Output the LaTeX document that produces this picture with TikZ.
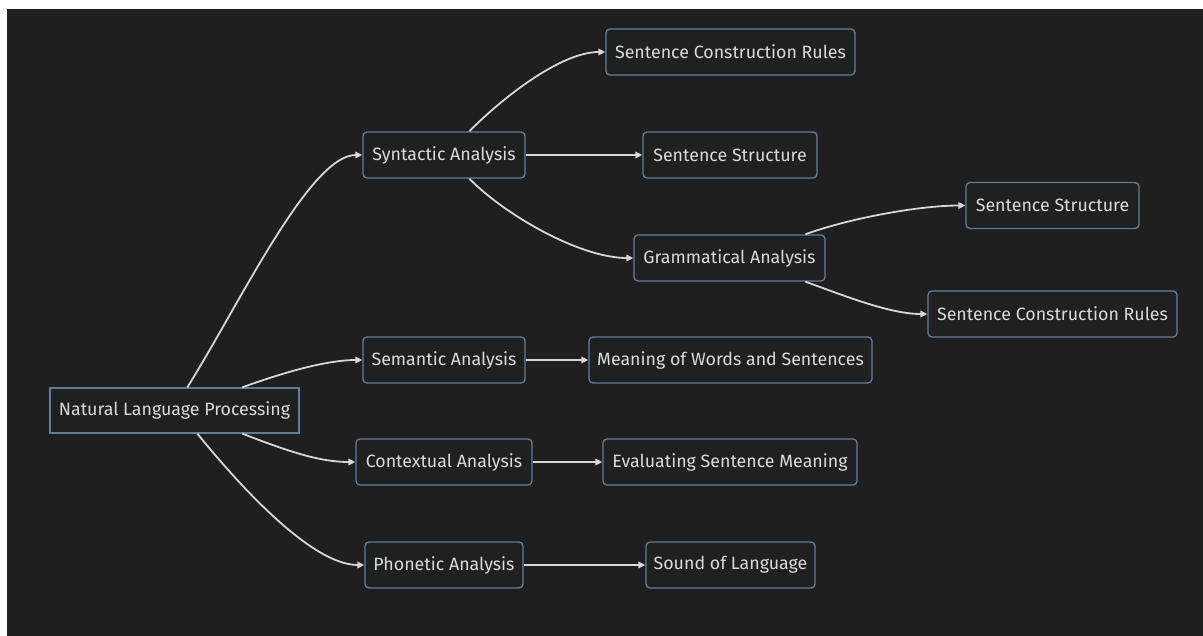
\documentclass[tikz,border=0pt]{standalone}
\usepackage{fontspec}
\setmainfont{Fira Sans}
\usetikzlibrary{arrows.meta}
\definecolor{bgdark}{RGB}{31,31,31}
\definecolor{boxfill}{RGB}{31,32,32}
\definecolor{boxborder}{RGB}{96,126,154}
\definecolor{txt}{RGB}{218,218,218}
\definecolor{edge}{RGB}{214,214,214}
\begin{document}
\begin{tikzpicture}[x=1pt,y=-1pt,
  box/.style={draw=boxborder,fill=boxfill,line width=1.3pt,rounded corners=4pt,
    text=txt,font=\fontsize{17.8}{20}\selectfont,inner sep=0pt,minimum height=46pt},
  sqbox/.style={box,rounded corners=0pt},
  conn/.style={draw=edge,line width=1.8pt,-{Triangle[length=7pt,width=6.5pt]}}]
\useasboundingbox (0,0) rectangle (1203,636);
\fill[white] (0,0) rectangle (1203,636);
\fill[bgdark] (7,9) rectangle (1203,636);

\node[sqbox,minimum width=249pt,minimum height=45pt] (nlp) at (174.5,410.5) {Natural Language Processing};
\node[box,minimum width=162pt] (syn) at (444,155) {Syntactic Analysis};
\node[box,minimum width=249pt] (scr1) at (730.5,52) {Sentence Construction Rules};
\node[box,minimum width=174pt] (ss1) at (730,155) {Sentence Structure};
\node[box,minimum width=191pt] (gram) at (729.5,258) {Grammatical Analysis};
\node[box,minimum width=173pt] (ss2) at (1052.5,205.5) {Sentence Structure};
\node[box,minimum width=249pt] (scr2) at (1052.5,314) {Sentence Construction Rules};
\node[box,minimum width=162pt] (sem) at (444,360) {Semantic Analysis};
\node[box,minimum width=283pt] (mean) at (730.5,360) {Meaning of Words and Sentences};
\node[box,minimum width=176pt] (ctx) at (444,462) {Contextual Analysis};
\node[box,minimum width=254pt] (eval) at (730,462) {Evaluating Sentence Meaning};
\node[box,minimum width=158pt] (pho) at (444,565) {Phonetic Analysis};
\node[box,minimum width=169pt] (sound) at (730.5,565) {Sound of Language};

% curved connectors
\draw[conn] (nlp.north west) ++(138,0) .. controls (240,303) and (310,155) .. (syn.west);
\draw[conn] (nlp.north west) ++(193,0) .. controls (290,370) and (330,360) .. (sem.west);
\draw[conn] (nlp.south west) ++(193,0) .. controls (290,452) and (320,462) .. (ctx.west);
\draw[conn] (nlp.south west) ++(148,0) .. controls (235,480) and (310,565) .. (pho.west);
\draw[conn] (syn.north west) ++(107,0) .. controls (500,100) and (560,52) .. (scr1.west);
\draw[conn] (syn.south west) ++(107,0) .. controls (505,215) and (580,258) .. (gram.west);
\draw[conn] (gram.north west) ++(172,0) .. controls (850,218) and (920,205.5) .. (ss2.west);
\draw[conn] (gram.south west) ++(172,0) .. controls (845,296) and (890,314) .. (scr2.west);
% straight connectors
\draw[conn] (syn) -- (ss1);
\draw[conn] (sem) -- (mean);
\draw[conn] (ctx) -- (eval);
\draw[conn] (pho) -- (sound);
\end{tikzpicture}
\end{document}
